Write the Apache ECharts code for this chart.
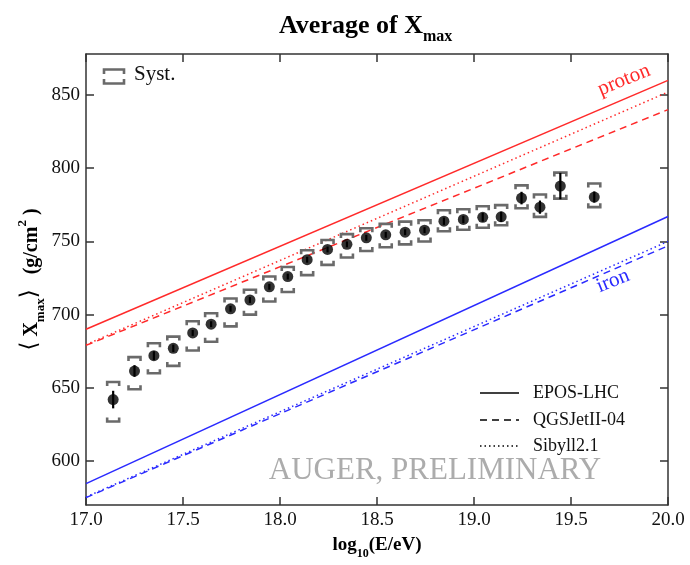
<!DOCTYPE html>
<html><head><meta charset="utf-8">
<script src="https://cdn.jsdelivr.net/npm/echarts@6/dist/echarts.min.js"></script>
<style>html,body{margin:0;padding:0;background:#fff}#c{width:690px;height:565px}</style>
</head><body><div id="c"></div>
<script>
// ---- data ----
const energy   = [17.14, 17.25, 17.35, 17.45, 17.55, 17.645, 17.745, 17.845, 17.945, 18.04, 18.14, 18.245, 18.345, 18.445, 18.545, 18.645, 18.745, 18.845, 18.945, 19.045, 19.14, 19.245, 19.34, 19.445, 19.62];
const xmaxMean = [642, 661.5, 672, 677, 687.5, 693.5, 704, 710, 719, 726, 737.5, 744.5, 748, 752.5, 754.5, 756.3, 757.7, 763.8, 765, 766.5, 766.8, 779.6, 773.4, 787.8, 780.3];
const statErr  = [6, 4, 3, 2.5, 2, 2, 2, 2, 2, 2, 2, 2, 2, 2, 2, 2, 2, 2.5, 2.5, 3, 3.5, 4.3, 4.5, 9, 3.8];
const systUp   = [654, 671, 680.5, 685, 695.5, 701, 711, 717, 726, 732.5, 744, 751, 755, 759, 762, 763.5, 764.5, 771.3, 772, 774, 774.8, 788.3, 782, 797, 789.6];
const systLow  = [627, 649, 660, 665, 675.5, 681.5, 692, 700, 709, 715.5, 727, 734, 739, 743.5, 746, 748, 750, 757, 758, 759.3, 761, 772.7, 766.8, 779.2, 773.4];

const lgERange   = [17, 20];
const protonEPOS = [690, 860];
const protonQGS  = [679, 840];
const protonSib  = [679.5, 852];
const ironEPOS   = [584.6, 767];
const ironQGS    = [575, 747];
const ironSib    = [575.5, 750];

const yTicks = [600, 650, 700, 750, 800, 850];
const modelNames = ['EPOS-LHC', 'QGSJetII-04', 'Sibyll2.1'];

// ---- build ----
const FONT = '"Liberation Serif", "DejaVu Serif", serif';
const RED = '#ff2a2a', BLUE = '#2a2aff', GRAY = '#6a6a6a';
const DASH = [7, 5], DOT = [1.5, 3];

function modelLine(vals, color, type) {
  return {
    type: 'line', silent: true, symbol: 'none', animation: false,
    data: [[lgERange[0], vals[0]], [lgERange[1], vals[1]]],
    lineStyle: { color: color, width: 1.5, type: type }, z: 2
  };
}

const chart = echarts.init(document.getElementById('c'), null, { renderer: 'canvas' });

const axisLineStyle = { color: '#333', width: 1.5 };
const option = {
  animation: false,
  backgroundColor: '#fff',
  textStyle: { fontFamily: FONT },
  title: {
    text: '{a|Average of X}{s|max}',
    left: 274, top: 2,
    textStyle: {
      rich: {
        a: { fontFamily: FONT, fontWeight: 'bold', fontSize: 26, color: '#000', verticalAlign: 'bottom', lineHeight: 32 },
        s: { fontFamily: FONT, fontWeight: 'bold', fontSize: 16, color: '#000', verticalAlign: 'bottom', lineHeight: 32, padding: [0, 0, -6, 0] }
      }
    }
  },
  grid: { left: 86, right: 22, top: 54, bottom: 60, containLabel: false, outerBoundsMode: 'none' },
  xAxis: [{
    type: 'value', min: 17, max: 20, interval: 0.5, position: 'bottom',
    axisLine: { show: true, onZero: false, lineStyle: axisLineStyle },
    axisTick: { show: true, inside: true, length: 8, lineStyle: axisLineStyle },
    axisLabel: { fontFamily: FONT, fontSize: 19, color: '#111', margin: 6, formatter: v => v.toFixed(1) },
    splitLine: { show: false },
    name: '{b|log}{s|10}{b|(E/eV)}', nameLocation: 'middle', nameGap: 26,
    nameTextStyle: {
      rich: {
        b: { fontFamily: FONT, fontWeight: 'bold', fontSize: 19, color: '#000', verticalAlign: 'bottom', lineHeight: 24 },
        s: { fontFamily: FONT, fontWeight: 'bold', fontSize: 12, color: '#000', verticalAlign: 'bottom', lineHeight: 24, padding: [0, 0, -5, 0] }
      }
    }
  }, {
    type: 'value', min: 17, max: 20, interval: 0.5, position: 'top',
    axisLine: { show: true, onZero: false, lineStyle: axisLineStyle },
    axisTick: { show: true, inside: true, length: 8, lineStyle: axisLineStyle },
    axisLabel: { show: false }, splitLine: { show: false }
  }],
  yAxis: [{
    type: 'value', min: 570, max: 878, position: 'left',
    axisLine: { show: true, onZero: false, lineStyle: axisLineStyle },
    axisTick: { show: true, inside: true, length: 8, lineStyle: axisLineStyle, customValues: yTicks },
    axisLabel: { fontFamily: FONT, fontSize: 19, color: '#111', margin: 6, customValues: yTicks },
    splitLine: { show: false },
    name: '{b|⟨}{t| X}{s|max}{b|⟩}{t|   (g/cm}{p|2}{t| )}', nameLocation: 'middle', nameGap: 44, nameRotate: 90,
    nameMoveOverlap: false,
    nameTextStyle: {
      rich: {
        b: { fontFamily: '"DejaVu Serif", serif', fontSize: 23, color: '#000', verticalAlign: 'bottom', lineHeight: 28 },
        t: { fontFamily: FONT, fontWeight: 'bold', fontSize: 20, color: '#000', verticalAlign: 'bottom', lineHeight: 28 },
        s: { fontFamily: FONT, fontWeight: 'bold', fontSize: 13, color: '#000', verticalAlign: 'bottom', lineHeight: 28, padding: [0, 0, -5, 0] },
        p: { fontFamily: FONT, fontWeight: 'bold', fontSize: 13, color: '#000', verticalAlign: 'top', lineHeight: 28, padding: [2, 0, 0, 0] }
      }
    }
  }, {
    type: 'value', min: 570, max: 878, position: 'right',
    axisLine: { show: true, onZero: false, lineStyle: axisLineStyle },
    axisTick: { show: true, inside: true, length: 8, lineStyle: axisLineStyle, customValues: yTicks },
    axisLabel: { show: false }, splitLine: { show: false }
  }],
  series: [
    modelLine(protonEPOS, RED, 'solid'),
    modelLine(protonQGS, RED, DASH),
    modelLine(protonSib, RED, DOT),
    modelLine(ironEPOS, BLUE, 'solid'),
    modelLine(ironQGS, BLUE, DASH),
    modelLine(ironSib, BLUE, DOT),
    {
      type: 'custom', name: 'Syst.', silent: true, z: 3,
      data: energy.map((e, i) => [e, systUp[i], systLow[i]]),
      renderItem: function (params, api) {
        const x = api.value(0);
        const pu = api.coord([x, api.value(1)]);
        const pl = api.coord([x, api.value(2)]);
        const w = 6, h = 4;
        const st = { stroke: GRAY, lineWidth: 2.6, fill: null };
        return { type: 'group', children: [
          { type: 'polyline', shape: { points: [[pu[0] - w, pu[1] + h], [pu[0] - w, pu[1]], [pu[0] + w, pu[1]], [pu[0] + w, pu[1] + h]] }, style: st },
          { type: 'polyline', shape: { points: [[pl[0] - w, pl[1] - h], [pl[0] - w, pl[1]], [pl[0] + w, pl[1]], [pl[0] + w, pl[1] - h]] }, style: st }
        ]};
      }
    },
    {
      type: 'custom', name: 'stat', silent: true, z: 4,
      data: energy.map((e, i) => [e, xmaxMean[i] - statErr[i], xmaxMean[i] + statErr[i]]),
      renderItem: function (params, api) {
        const x = api.value(0);
        const a = api.coord([x, api.value(1)]);
        const b = api.coord([x, api.value(2)]);
        return { type: 'line', shape: { x1: a[0], y1: a[1], x2: b[0], y2: b[1] }, style: { stroke: '#000', lineWidth: 2.2 } };
      }
    },
    {
      type: 'scatter', name: 'data', silent: true, z: 5,
      data: energy.map((e, i) => [e, xmaxMean[i]]),
      symbol: 'circle', symbolSize: 11,
      itemStyle: { color: '#000' }
    }
  ],
  graphic: [
    // Syst. legend
    { type: 'polyline', shape: { points: [[104, 74], [104, 69.5], [124, 69.5], [124, 74]] }, style: { stroke: GRAY, lineWidth: 2.6, fill: null } },
    { type: 'polyline', shape: { points: [[104, 79], [104, 83.5], [124, 83.5], [124, 79]] }, style: { stroke: GRAY, lineWidth: 2.6, fill: null } },
    { type: 'text', left: 134, top: 64, style: { text: 'Syst.', font: '21px ' + FONT, fill: '#111' } },
    // model legend
    { type: 'line', shape: { x1: 480, y1: 393, x2: 519, y2: 393 }, style: { stroke: '#000', lineWidth: 1.5 } },
    { type: 'line', shape: { x1: 480, y1: 420, x2: 519, y2: 420 }, style: { stroke: '#000', lineWidth: 1.5, lineDash: DASH } },
    { type: 'line', shape: { x1: 480, y1: 446, x2: 519, y2: 446 }, style: { stroke: '#000', lineWidth: 1.5, lineDash: DOT } },
    { type: 'text', x: 533, y: 393, style: { text: modelNames[0], font: '18px ' + FONT, fill: '#111', textVerticalAlign: 'middle' } },
    { type: 'text', x: 533, y: 420, style: { text: modelNames[1], font: '18px ' + FONT, fill: '#111', textVerticalAlign: 'middle' } },
    { type: 'text', x: 533, y: 446, style: { text: modelNames[2], font: '18px ' + FONT, fill: '#111', textVerticalAlign: 'middle' } },
    // watermark
    { type: 'text', x: 435, y: 471, z: 1, style: { text: 'AUGER, PRELIMINARY', font: '31px ' + FONT, fill: '#acacac', textAlign: 'center', textVerticalAlign: 'middle' } },
    // composition labels
    { type: 'text', x: 624, y: 80, rotation: 22 * Math.PI / 180, style: { text: 'proton', font: '21px ' + FONT, fill: RED, textAlign: 'center', textVerticalAlign: 'middle' } },
    { type: 'text', x: 613, y: 281, rotation: 22 * Math.PI / 180, style: { text: 'iron', font: '21px ' + FONT, fill: BLUE, textAlign: 'center', textVerticalAlign: 'middle' } }
  ]
};
chart.setOption(option);
</script>
</body></html>
